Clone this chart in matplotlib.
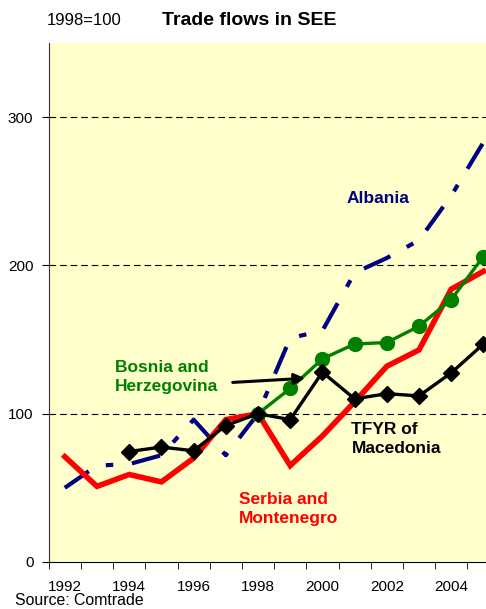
import numpy as np
import matplotlib
matplotlib.use('Agg')
import matplotlib.pyplot as plt
from matplotlib.ticker import FixedLocator

plt.rcParams['font.family'] = ['Liberation Sans', 'DejaVu Sans']

#--------------------------------Data------------------------------------------

years = list(range(1992, 2006))
nan = np.nan

albania = [50, 65, 66, 72, 96, 72, 100, 151, 156, 195, 205, 217, 247, 283]
serbia = [71, 51, 59, 54, 70, 96, 100, 65, 85, 108, 132, 143, 184, 196]
bosnia = [nan, nan, nan, nan, nan, nan, 100, 117, 137, 147, 148, 159, 177, 206]
macedonia = [nan, nan, 74.5, 77.5, 75, 92, 100, 96, 128, 110, 113.5, 112, 127.5, 147]

yticks = [0, 100, 200, 300]
xlabels = ['1992', '1994', '1996', '1998', '2000', '2002', '2004']

#--------------------------------Plot------------------------------------------

fig = plt.figure(figsize=(4.86, 6.09), dpi=100)
ax = fig.add_axes([0.1002, 0.0772, 0.9276, 0.8522])
ax.set_facecolor('#FFFFCC')

x = np.arange(len(years))

ax.plot(x, albania, color='#000080', lw=3, linestyle=(0, (7, 4.5, 1.8, 4.5)))
ax.plot(x, serbia, color='#FF0000', lw=4, solid_joinstyle='miter')
ax.plot(x, bosnia, color='#008000', lw=2.4, marker='o', ms=10)
ax.plot(x, macedonia, color='black', lw=2.4, marker='D', ms=8)

# dashed grid
for v in yticks[1:]:
    ax.axhline(v, color='black', lw=0.8, linestyle=(0, (6, 3.5)), zorder=0.5)

ax.set_xlim(-0.5, len(years) - 0.5)
ax.set_ylim(0, 350)

ax.set_yticks(yticks)
ax.set_xticks([years.index(int(s)) for s in xlabels])
ax.set_xticklabels(xlabels)
ax.xaxis.set_minor_locator(FixedLocator(np.arange(-0.5, len(years), 1)))
ax.tick_params(axis='x', which='major', length=0, pad=13, labelsize=11)
ax.tick_params(axis='x', which='minor', length=5, direction='out')
ax.tick_params(axis='y', length=5, direction='out', pad=6, labelsize=11)

for s in ['top', 'right']:
    ax.spines[s].set_visible(False)
ax.spines['left'].set_color('#333333')

# labels
ax.text(8.75, 245, 'Albania', color='#000080', fontsize=12.5, fontweight='bold',
        va='center')
ax.text(1.55, 125, 'Bosnia and\nHerzegovina', color='#008000', fontsize=12.5,
        fontweight='bold', va='center', linespacing=1.35)
ax.text(8.9, 83, 'TFYR of\nMacedonia', color='black', fontsize=12.5,
        fontweight='bold', va='center', linespacing=1.35)
ax.text(5.4, 36, 'Serbia and\nMontenegro', color='#FF0000', fontsize=12.5,
        fontweight='bold', va='center', linespacing=1.35)
ax.annotate('', xy=(7.55, 124), xytext=(5.13, 121),
            arrowprops=dict(arrowstyle='-|>', color='black', lw=2.2,
                            mutation_scale=16))

fig.text(0.097, 0.966, '1998=100', fontsize=12, va='center')
fig.text(0.512, 0.966, 'Trade flows in SEE', fontsize=14, fontweight='bold',
         ha='center', va='center')
fig.text(0.03, 0.002, 'Source: Comtrade', fontsize=11.4, va='bottom')

fig.savefig('out.png', dpi=100)
